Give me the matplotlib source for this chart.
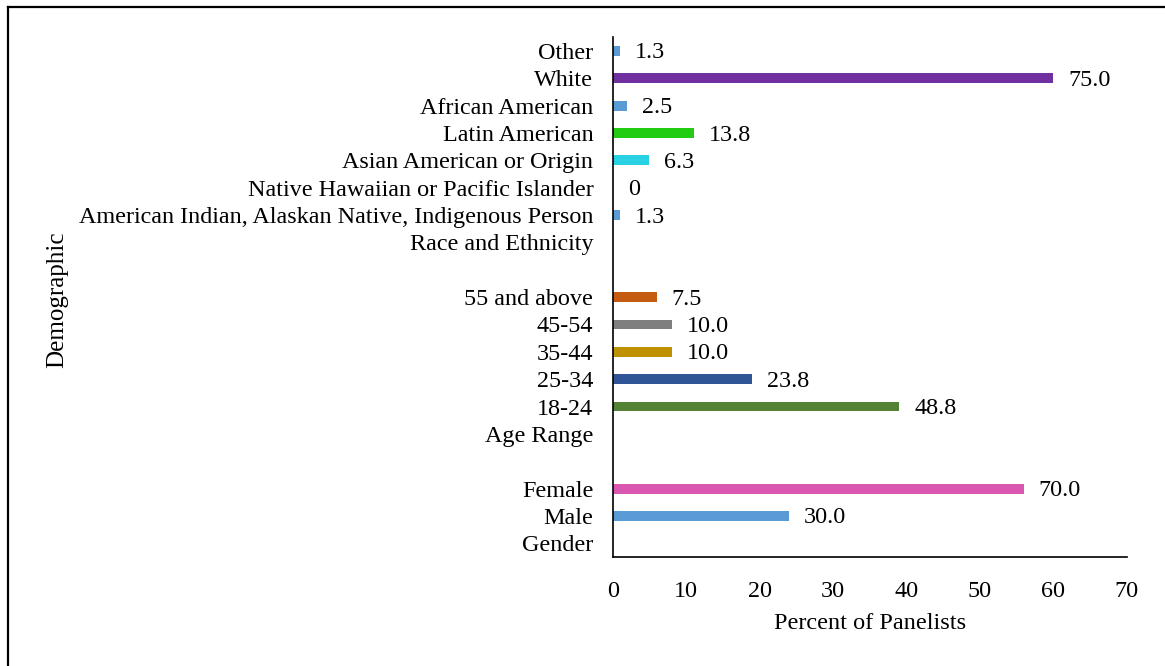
import matplotlib.pyplot as plt
from matplotlib.lines import Line2D

# DATA (bottom to top); bar lengths are panelist counts (n=80), labels are percents
categories = ['Gender', 'Male', 'Female', '', 'Age Range', '18-24', '25-34', '35-44',
              '45-54', '55 and above', '', 'Race and Ethnicity',
              'American Indian, Alaskan Native, Indigenous Person',
              'Native Hawaiian or Pacific Islander', 'Asian American or Origin',
              'Latin American', 'African American', 'White', 'Other']
counts = [None, 24, 56, None, None, 39, 19, 8, 8, 6, None, None, 1, 0, 5, 11, 2, 60, 1]
percent_labels = ['', '30.0', '70.0', '', '', '48.8', '23.8', '10.0', '10.0', '7.5',
                  '', '', '1.3', '0', '6.3', '13.8', '2.5', '75.0', '1.3']
colors = ['#5B9BD5', '#5B9BD5', '#D957B0', '#5B9BD5', '#5B9BD5', '#548235', '#2F5597',
          '#BF9000', '#7F7F7F', '#C55A11', '#5B9BD5', '#5B9BD5', '#5B9BD5', '#5B9BD5',
          '#29D1E3', '#22CC11', '#5B9BD5', '#7030A0', '#5B9BD5']
xticks = [0, 10, 20, 30, 40, 50, 60, 70]

plt.rcParams['font.family'] = ['Liberation Serif', 'DejaVu Serif']
FS = 17.4

fig = plt.figure(figsize=(11.65, 6.66), dpi=100)
ax = fig.add_axes([0.526, 0.1637, 0.441, 0.7803])

ypos = list(range(len(categories)))
vals = [0 if c is None else c for c in counts]
ax.barh(ypos, vals, height=0.36, color=colors)
for y, v, lab in zip(ypos, vals, percent_labels):
    if lab:
        ax.annotate(lab, (v, y), xytext=(15, -2), textcoords='offset pixels',
                    va='center', ha='left', fontsize=FS)

ax.set_xlim(0, 70)
ax.set_ylim(-0.5, len(categories) - 0.5)
ax.set_xticks(xticks)
ax.set_yticks(ypos)
ax.set_yticklabels(categories)
ax.tick_params(axis='both', length=0, labelsize=FS)
ax.tick_params(axis='x', pad=17)
ax.tick_params(axis='y', pad=14)
for s in ['top', 'right']:
    ax.spines[s].set_visible(False)
ax.spines['left'].set_linewidth(1.2)
ax.spines['bottom'].set_linewidth(1.2)

ax.set_xlabel('Percent of Panelists', fontsize=17.5, labelpad=8)
fig.text(0.049, 0.55, 'Demographic', rotation=90, ha='center', va='center', fontsize=18)

# outer frame (left and top edges)
fig.add_artist(Line2D([0.0068, 0.0068], [0, 0.989], color='black', lw=1.6))
fig.add_artist(Line2D([0.0068, 1], [0.989, 0.989], color='black', lw=1.6))

fig.savefig('out.png', dpi=100)
